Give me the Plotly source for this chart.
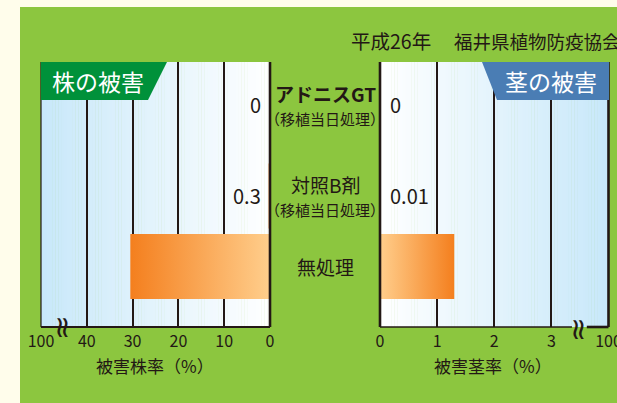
import plotly.graph_objects as go

# ---------------- data ----------------
categories = ["アドニスGT", "対照B剤", "無処理"]
category_notes = ["（移植当日処理）", "（移植当日処理）", ""]
plant_damage = [0, 0.3, 30.5]    # 被害株率 (%)
stem_damage = [0, 0.01, 1.3]     # 被害茎率 (%)
plant_tickvals = [50, 40, 30, 20, 10, 0]
plant_ticktext = ["100", "40", "30", "20", "10", "0"]
stem_tickvals = [0, 1, 2, 3, 4]
stem_ticktext = ["0", "1", "2", "3", "100"]
title_plant = "被害株率（%）"
title_stem = "被害茎率（%）"
header_plant = "株の被害"
header_stem = "茎の被害"
source_text = "平成26年　福井県植物防疫協会"

# ---------------- style ----------------
W, H = 617, 403
FONT = "Noto Sans CJK JP"
DARK = "#231815"
GREEN_BG = "#8CC63F"
CREAM = "#FFFDEB"
HDR_GREEN = "#00913A"
HDR_BLUE = "#4A7DB4"
BAR_LIGHT = "#FFCE8C"
BAR_DARK = "#F47F1E"
BLUE_END = (200, 232, 250)
ROW_POS = [0, 1, 1.766]
BAR_W = 0.707
Y_RANGE = [2.424, -0.4565]


def px(x):
    return x / W


def py(y):
    return 1 - y / H


fig = go.Figure()


# bars with gradient fill
def add_bars(values, xa):
    for v, r in zip(values, ROW_POS):
        if v <= 0:
            continue
        y0, y1 = r - BAR_W / 2, r + BAR_W / 2
        fig.add_trace(go.Scatter(
            x=[0, v, v, 0, 0], y=[y0, y0, y1, y1, y0],
            xaxis=xa, yaxis="y", mode="lines", line=dict(width=0),
            fill="toself",
            fillgradient=dict(type="horizontal", start=0, stop=v,
                              colorscale=[[0, BAR_LIGHT], [1, BAR_DARK]]),
            hoverinfo="skip", showlegend=False))


add_bars(plant_damage, "x")
add_bars(stem_damage, "x2")

shapes = []
# cream strips
shapes.append(dict(type="rect", xref="paper", yref="paper", x0=0, x1=px(20), y0=0, y1=1,
                   fillcolor=CREAM, line=dict(width=0), layer="below"))
shapes.append(dict(type="rect", xref="paper", yref="paper", x0=0, x1=1, y0=py(7), y1=1,
                   fillcolor=CREAM, line=dict(width=0), layer="below"))

# background gradients in plot areas
N = 80
for xr, blue_left in (("x domain", True), ("x2 domain", False)):
    for i in range(N):
        t = (i + 0.5) / N
        f = (1 - t) if blue_left else t
        c = tuple(round(255 + (b - 255) * f) for b in BLUE_END)
        shapes.append(dict(type="rect", xref=xr, yref="y domain",
                           x0=i / N, x1=(i + 1) / N + 0.002, y0=0, y1=1,
                           fillcolor="rgb(%d,%d,%d)" % c, line=dict(width=0), layer="below"))


# panel borders
def vline(xr, x, w):
    shapes.append(dict(type="line", xref=xr, yref="y domain", x0=x, x1=x, y0=0, y1=1,
                       line=dict(color=DARK, width=w), layer="above"))


def hline(xr, x0, x1, w):
    shapes.append(dict(type="line", xref=xr, yref="y domain", x0=x0, x1=x1, y0=0, y1=0,
                       line=dict(color=DARK, width=w), layer="above"))


vline("x domain", 0, 1.2)
vline("x domain", 1, 2.6)
hline("x domain", 0, 1, 2)
vline("x2 domain", 0, 2.6)
vline("x2 domain", 1, 2.6)
hline("x2 domain", 0, 0.84, 1.3)
hline("x2 domain", 0.905, 1, 2.6)


# header tabs
def path(pts):
    return "M " + " L ".join("%f,%f" % (px(a), py(b)) for a, b in pts) + " Z"


shapes.append(dict(type="path", xref="paper", yref="paper",
                   path=path([(41, 62), (167, 62), (148, 100), (41, 100)]),
                   fillcolor=HDR_GREEN, line=dict(width=0), layer="above"))
shapes.append(dict(type="path", xref="paper", yref="paper",
                   path=path([(482, 62), (609, 62), (609, 100), (497, 100)]),
                   fillcolor=HDR_BLUE, line=dict(width=0), layer="above"))

annotations = []


def ann(**kw):
    kw.setdefault("showarrow", False)
    kw.setdefault("xanchor", "center")
    kw.setdefault("yanchor", "middle")
    annotations.append(kw)


# header texts
ann(xref="paper", yref="paper", x=px(98), y=py(81), text=header_plant,
    font=dict(size=23, color="white", family=FONT))
ann(xref="paper", yref="paper", x=px(551), y=py(81), text=header_stem,
    font=dict(size=23, color="white", family=FONT))
# source text (year part, then organisation part)
src_year, src_org = source_text.split("　")
ann(xref="paper", yref="paper", x=px(349), y=py(41), xanchor="left", text=src_year,
    font=dict(size=19.5, color=DARK, family=FONT))
ann(xref="paper", yref="paper", x=px(452), y=py(41), xanchor="left", text=src_org,
    font=dict(size=18.5, color=DARK, family=FONT))
# category labels
for i, (c, n) in enumerate(zip(categories, category_notes)):
    main = "<b>%s</b>" % c if i == 0 else c
    ann(xref="paper", yref="y", x=px(325), y=ROW_POS[i], text=main,
        yshift=(11 if n else 0), font=dict(size=19, color=DARK, family=FONT))
    if n:
        ann(xref="paper", yref="y", x=px(325), y=ROW_POS[i], text=n,
            yshift=-14, font=dict(size=15, color=DARK, family=FONT))
# value labels (rows without visible bars)
for i in range(2):
    ann(xref="x", yref="y", x=0, y=ROW_POS[i], xanchor="right", xshift=-7,
        text="%g" % plant_damage[i], font=dict(size=20, color=DARK, family=FONT))
    ann(xref="x2", yref="y", x=0, y=ROW_POS[i], xanchor="left", xshift=8,
        text="%g" % stem_damage[i], font=dict(size=20, color=DARK, family=FONT))
# axis titles
ann(xref="paper", yref="paper", x=px(155), y=py(365), text=title_plant,
    font=dict(size=17, color=DARK, family=FONT))
ann(xref="paper", yref="paper", x=px(493), y=py(365), text=title_stem,
    font=dict(size=17, color=DARK, family=FONT))
# axis break marks
for xx, yy in ((64, 327), (580, 329)):
    ann(xref="paper", yref="paper", x=px(xx), y=py(yy), text="≈", textangle=90,
        font=dict(size=30, color=DARK, family="DejaVu Sans"))

axis_common = dict(showgrid=True, gridcolor=DARK, gridwidth=2, zeroline=False,
                   ticks="", showline=False, fixedrange=True, automargin=False,
                   ticklabeloverflow="allow", ticklabelstandoff=3,
                   tickfont=dict(size=16, color=DARK, family=FONT))

fig.update_layout(
    width=W, height=H,
    margin=dict(l=0, r=0, t=0, b=0),
    paper_bgcolor=GREEN_BG,
    plot_bgcolor="rgba(0,0,0,0)",
    showlegend=False,
    xaxis=dict(domain=[px(41), px(270)], range=[50, 0], anchor="y",
               tickmode="array", tickvals=plant_tickvals, ticktext=plant_ticktext,
               **axis_common),
    xaxis2=dict(domain=[px(380), px(608.5)], range=[0, 4], anchor="y",
                tickmode="array", tickvals=stem_tickvals, ticktext=stem_ticktext,
                **axis_common),
    yaxis=dict(domain=[1 - 327 / H, 1 - 62 / H], range=Y_RANGE, showgrid=False,
               zeroline=False, showticklabels=False, fixedrange=True),
    shapes=shapes,
    annotations=annotations,
)

fig.write_html("out.html", config={"displayModeBar": False},
               post_script="document.body.style.margin='0px';")
